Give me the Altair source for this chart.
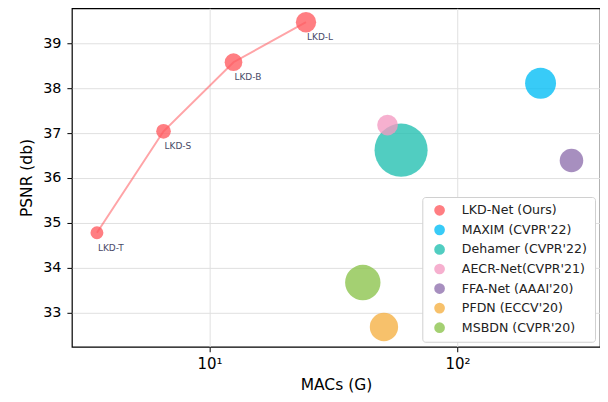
import altair as alt
import pandas as pd

# Data
methods = ["LKD-Net (Ours)", "LKD-Net (Ours)", "LKD-Net (Ours)", "LKD-Net (Ours)",
           "MAXIM (CVPR'22)", "Dehamer (CVPR'22)", "AECR-Net(CVPR'21)",
           "FFA-Net (AAAI'20)", "PFDN (ECCV'20)", "MSBDN (CVPR'20)"]
labels = ["LKD-T", "LKD-S", "LKD-B", "LKD-L", "", "", "", "", "", ""]
macs = [3.52, 6.53, 12.5, 24.5, 216, 59.2, 52.2, 287.8, 50.5, 41.5]
psnr = [34.78, 37.04, 38.58, 39.47, 38.11, 36.62, 37.18, 36.39, 32.68, 33.67]
bubble = [168, 216, 314, 415, 960, 2830, 430, 556, 804, 1257]

legend_order = ["LKD-Net (Ours)", "MAXIM (CVPR'22)", "Dehamer (CVPR'22)",
                "AECR-Net(CVPR'21)", "FFA-Net (AAAI'20)", "PFDN (ECCV'20)",
                "MSBDN (CVPR'20)"]
colors = ["#ff5a5f", "#00bcf5", "#20bfb0", "#f49ac2", "#8e6fad", "#f5b041", "#8bc34a"]

df = pd.DataFrame({"method": methods, "label": labels, "macs": macs,
                   "psnr": psnr, "bubble": bubble})
lkd = df[df["label"] != ""]

xscale = alt.Scale(type="log", domain=[2.79, 375], nice=False)
yscale = alt.Scale(domain=[32.24, 39.78], nice=False, zero=False)

xaxis = alt.Axis(values=[10, 100], labelExpr="datum.value == 10 ? '10¹' : '10²'",
                 title="MACs (G)", grid=True, gridColor="#e0e0e0", labelFontSize=15,
                 titleFontSize=15.5, titleFontWeight="normal", tickColor="black",
                 domain=False, labelColor="black", titleColor="black", tickSize=5,
                 labelPadding=5, titlePadding=6, labelFont="DejaVu Sans", titleFont="DejaVu Sans")
yaxis = alt.Axis(values=[33, 34, 35, 36, 37, 38, 39], title="PSNR (db)", grid=True,
                 gridColor="#e0e0e0", labelFontSize=14.4, titleFontSize=15.5,
                 titleFontWeight="normal", tickColor="black", domain=False,
                 labelColor="black", titleColor="black", tickSize=5, labelPadding=6,
                 titlePadding=8, labelFont="DejaVu Sans", titleFont="DejaVu Sans")

line = alt.Chart(lkd).mark_line(color="#ff5a5f", opacity=0.55, strokeWidth=2).encode(
    x=alt.X("macs:Q", scale=xscale, axis=xaxis),
    y=alt.Y("psnr:Q", scale=yscale, axis=yaxis),
    order="macs:Q",
)

points = alt.Chart(df).mark_circle(opacity=0.78).encode(
    x=alt.X("macs:Q", scale=xscale),
    y=alt.Y("psnr:Q", scale=yscale),
    color=alt.Color("method:N", scale=alt.Scale(domain=legend_order, range=colors),
                    sort=legend_order,
                    legend=alt.Legend(title=None, orient="bottom-right", offset=5,
                                      labelFontSize=12.6, labelFont="DejaVu Sans",
                                      labelColor="#222", symbolType="circle",
                                      symbolSize=115, symbolOpacity=0.78,
                                      symbolStrokeWidth=0, rowPadding=6.6,
                                      fillColor="white", strokeColor="#d0d0d0",
                                      cornerRadius=3, padding=7, labelOffset=16,
                                      symbolOffset=4)),
    size=alt.Size("bubble:Q", scale=None, legend=None),
)

text = alt.Chart(lkd).mark_text(align="left", baseline="middle", dx=1, dy=15,
                                fontSize=9, font="DejaVu Sans", color="#4a4a68").encode(
    x=alt.X("macs:Q", scale=xscale),
    y=alt.Y("psnr:Q", scale=yscale),
    text="label:N",
)

chart = (line + points + text).properties(
    width=529, height=339,
    autosize=alt.AutoSizeParams(type="none"),
    padding={"left": 64, "top": 0, "right": 0, "bottom": 47},
).configure_view(stroke="black", strokeWidth=1.2)

chart.save("out.html", embed_options={"renderer": "svg", "actions": False})
